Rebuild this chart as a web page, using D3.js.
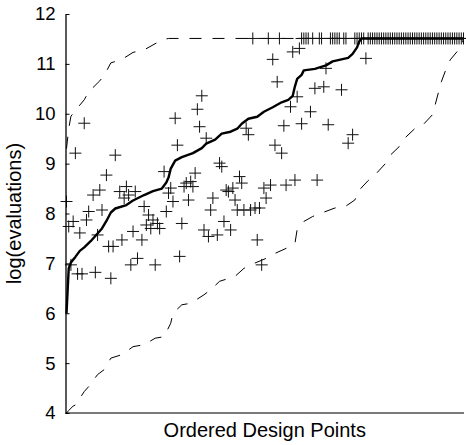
<!DOCTYPE html>
<html><head><meta charset="utf-8">
<script src="https://cdn.jsdelivr.net/npm/d3@7"></script>
<style>html,body{margin:0;padding:0;background:#fff}svg{display:block}</style>
</head><body><svg id="chart" width="466" height="445"></svg>
<script>
// ---------------- data ----------------
const nPoints = 180;
const yTicks = [4, 5, 6, 7, 8, 9, 10, 11, 12];
const yLabel = "log(evaluations)";
const xLabel = "Ordered Design Points";

// thick solid curve (ordered design values)
const curveIdx = [0, 1, 2, 4, 6, 8, 11, 13, 16, 18, 20, 22, 27, 30, 35, 39, 43, 45, 46, 47, 49, 52, 57, 61, 63, 67, 70, 74, 77, 79, 82, 86, 89, 93, 97, 100, 102, 103, 104, 106, 107, 112, 117, 120, 127, 129, 131, 132, 133, 179];
const curveVal = [6.0, 6.9, 7.02, 7.13, 7.25, 7.32, 7.45, 7.55, 7.70, 7.85, 8.02, 8.10, 8.17, 8.26, 8.37, 8.45, 8.50, 8.62, 8.72, 8.90, 9.06, 9.13, 9.21, 9.31, 9.40, 9.48, 9.60, 9.64, 9.70, 9.80, 9.90, 9.94, 10.04, 10.13, 10.23, 10.28, 10.36, 10.55, 10.70, 10.78, 10.87, 10.90, 10.97, 11.05, 11.12, 11.20, 11.33, 11.45, 11.51, 11.51];

// dashed upper bound
const upperIdx = [0, 1, 2, 5, 8, 10, 15, 17, 20, 25, 30, 35, 41, 44, 46, 179];
const upperVal = [9.3, 9.7, 9.95, 10.12, 10.28, 10.44, 10.66, 10.77, 11.02, 11.09, 11.23, 11.28, 11.43, 11.49, 11.51, 11.51];

// dashed lower bound
const lowerIdx = [0, 1, 3, 4, 8, 10, 14, 17, 20, 25, 30, 35, 40, 44, 47, 48, 52, 56, 62, 65, 69, 76, 80, 83, 90, 94, 99, 103, 104, 106, 107, 111, 115, 121, 126, 130, 132, 136, 139, 144, 146, 150, 152, 157, 161, 165, 166, 168, 169, 171, 173, 176, 178, 179];
const lowerVal = [4.0, 4.05, 4.14, 4.16, 4.43, 4.53, 4.77, 4.87, 5.10, 5.17, 5.33, 5.37, 5.50, 5.53, 5.80, 6.00, 6.17, 6.20, 6.37, 6.47, 6.64, 6.74, 6.90, 6.97, 7.10, 7.20, 7.30, 7.40, 7.68, 7.77, 7.84, 7.94, 8.01, 8.11, 8.15, 8.27, 8.47, 8.66, 8.77, 9.01, 9.17, 9.34, 9.49, 9.70, 9.79, 9.98, 10.14, 10.48, 10.64, 10.88, 11.08, 11.24, 11.34, 11.51];

// individual evaluations (+ markers)
const crossIdx = [0, 1, 2, 3, 4, 5, 6, 7, 8, 9, 10, 12, 13, 14, 15, 16, 18, 19, 20, 21, 22, 24, 25, 26, 27, 28, 29, 30, 31, 32, 34, 35, 36, 37, 38, 39, 40, 41, 42, 44, 45, 46, 47, 48, 49, 50, 51, 52, 53, 54, 55, 56, 57, 58, 59, 60, 61, 62, 63, 64, 65, 66, 68, 69, 70, 71, 72, 73, 74, 75, 76, 77, 78, 79, 80, 81, 82, 83, 84, 85, 86, 87, 88, 89, 90, 91, 92, 93, 94, 95, 96, 97, 98, 99, 101, 102, 103, 104, 105, 106, 106, 107, 108, 109, 110, 111, 112, 113, 114, 115, 116, 117, 118, 119, 120, 121, 122, 123, 124, 125, 126, 127, 129, 130, 131, 132, 133, 134, 135, 136, 137, 138, 139, 140, 141, 142, 143, 144, 145, 146, 147, 148, 149, 150, 151, 152, 153, 154, 155, 156, 157, 158, 159, 160, 161, 162, 163, 164, 165, 166, 167, 168, 169, 170, 171, 172, 173, 174, 175, 176, 177, 178, 179];
const crossVal = [8.24, 7.74, 6.97, 7.84, 9.21, 6.79, 7.61, 6.79, 9.81, 7.87, 8.04, 8.37, 6.82, 7.57, 8.47, 8.07, 8.77, 7.34, 6.70, 7.34, 9.17, 8.44, 7.47, 8.31, 8.54, 8.37, 6.97, 7.64, 8.44, 7.10, 7.47, 8.14, 7.77, 7.97, 7.70, 7.87, 6.97, 7.80, 7.70, 8.84, 8.04, 8.41, 8.51, 8.24, 9.91, 9.37, 7.14, 7.80, 8.54, 8.61, 8.27, 8.64, 8.54, 8.81, 10.09, 9.74, 10.36, 7.67, 9.51, 7.54, 8.07, 8.31, 7.57, 9.01, 8.94, 7.84, 8.47, 8.44, 7.67, 8.51, 8.27, 8.07, 8.74, 8.61, 8.07, 9.71, 9.58, 8.07, 11.51, 8.11, 7.47, 8.11, 6.97, 8.51, 8.31, 11.51, 8.57, 11.09, 9.37, 10.64, 11.51, 9.21, 9.76, 8.57, 10.14, 11.24, 8.67, 10.34, 11.31, 11.51, 9.80, 11.51, 11.51, 11.51, 10.04, 11.51, 10.51, 8.67, 11.51, 11.51, 10.54, 10.91, 9.78, 11.51, 11.51, 11.51, 11.51, 11.51, 10.48, 11.51, 11.51, 9.41, 9.58, 11.51, 11.51, 11.51, 11.51, 11.51, 11.11, 11.51, 11.51, 11.51, 11.51, 11.51, 11.51, 11.51, 11.51, 11.51, 11.51, 11.51, 11.51, 11.51, 11.51, 11.51, 11.51, 11.51, 11.51, 11.51, 11.51, 11.51, 11.51, 11.51, 11.51, 11.51, 11.51, 11.51, 11.51, 11.51, 11.51, 11.51, 11.51, 11.51, 11.51, 11.51, 11.51, 11.51, 11.51, 11.51, 11.51, 11.51, 11.51, 11.51, 11.51];

// ---------------- drawing ----------------
const margin = {left: 65.5};
const svg = d3.select("#chart");
const font = "'Liberation Sans', Arial, Helvetica, sans-serif";

const x = d3.scaleLinear().domain([0, nPoints - 1]).range([66.5, 463.5]);
const y = d3.scaleLinear().domain([4, 12]).range([413, 14]);

const pts = (ix, vs) => ix.map((d, i) => [d, vs[i]]);
const line = d3.line().x(d => x(d[0])).y(d => y(d[1]));

// x axis line (no ticks)
svg.append("line")
  .attr("x1", margin.left).attr("x2", x.range()[1] + 0.5)
  .attr("y1", y(4)).attr("y2", y(4))
  .attr("stroke", "#7a7a7a").attr("stroke-width", 2);

// dashed bounds
svg.append("path").datum(pts(upperIdx, upperVal))
  .attr("d", line).attr("fill", "none").attr("stroke", "#000")
  .attr("stroke-width", 1).attr("stroke-dasharray", "12,11");
svg.append("path").datum(pts(lowerIdx, lowerVal))
  .attr("d", line).attr("fill", "none").attr("stroke", "#000")
  .attr("stroke-width", 1).attr("stroke-dasharray", "12,11");

// crosses
const s = 6;
const cg = svg.append("g").attr("stroke", "#111").attr("stroke-width", 1).attr("fill", "none");
cg.selectAll("path").data(pts(crossIdx, crossVal)).join("path")
  .attr("d", d => {
    const cx = x(d[0]), cy = y(d[1]);
    return `M${cx - s},${cy}H${cx + s}M${cx},${cy - s}V${cy + s}`;
  });

// thick curve
svg.append("path").datum(pts(curveIdx, curveVal))
  .attr("d", line).attr("fill", "none").attr("stroke", "#000")
  .attr("stroke-width", 2.4).attr("stroke-linejoin", "round");

// y axis (ticks pointing inward)
const yAxis = d3.axisLeft(y).tickValues(yTicks).tickSizeInner(-4).tickSizeOuter(0).tickPadding(10).tickFormat(d3.format("d"));
const gy = svg.append("g").attr("transform", `translate(${margin.left},0)`).call(yAxis);
gy.select(".domain").attr("stroke", "#000").attr("stroke-width", 1.3);
gy.selectAll(".tick line").attr("stroke", "#000");
gy.selectAll(".tick text").attr("font-family", font).attr("font-size", 18.5).attr("fill", "#000");

// axis labels
svg.append("text")
  .attr("transform", `translate(21,${(y(4) + y(12)) / 2}) rotate(-90)`)
  .attr("text-anchor", "middle")
  .attr("font-family", font).attr("font-size", 20).attr("fill", "#000")
  .text(yLabel);
svg.append("text")
  .attr("x", (margin.left + 464) / 2).attr("y", 437)
  .attr("text-anchor", "middle")
  .attr("font-family", font).attr("font-size", 20).attr("fill", "#000")
  .text(xLabel);
</script>
</body></html>
